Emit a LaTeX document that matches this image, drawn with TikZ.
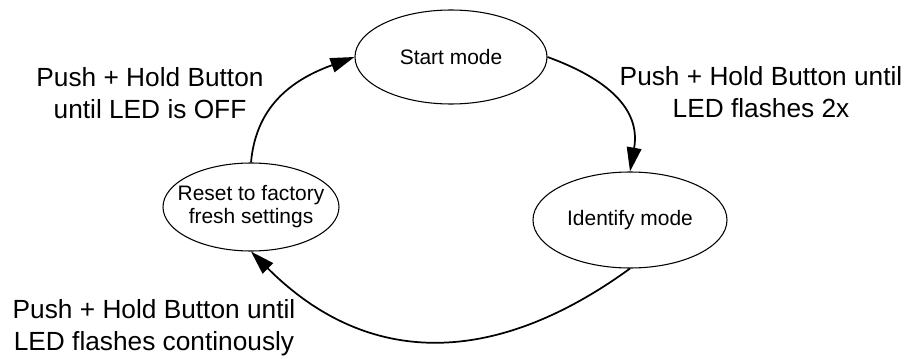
\documentclass[tikz,border=0pt]{standalone}
\usepackage{fontspec}
\setmainfont{Liberation Sans}
\usetikzlibrary{shapes.geometric,arrows.meta}
\begin{document}
\begin{tikzpicture}[x=0.75pt,y=0.75pt,
  statebox/.style={ellipse,draw=black,line width=0.8pt,inner sep=0pt},
  statetext/.style={align=center,font=\fontsize{15.7pt}{17.3pt}\selectfont,inner sep=0pt},
  edgelabel/.style={align=center,font=\fontsize{19.7pt}{24pt}\selectfont,inner sep=0pt},
  conn/.style={line width=1.3pt,-{Triangle[length=18pt,width=11pt]}}]
\useasboundingbox (0,0) rectangle (908,358);
\node[statebox,minimum width=144pt,minimum height=70.5pt,
  label={[statetext]center:Start mode}] (start) at (451,301) {};
\node[statebox,minimum width=132pt,minimum height=66pt,
  label={[statetext]center:Reset to factory\\fresh settings}] (reset) at (251,151) {};
\node[statebox,minimum width=145.5pt,minimum height=72pt,
  label={[statetext]center:Identify mode}] (ident) at (630,138) {};
\node[edgelabel] (l1) at (150,265) {Push + Hold Button\\until LED is OFF};
\node[edgelabel] (l2) at (761,266) {Push + Hold Button until\\LED flashes 2x};
\node[edgelabel] (l3) at (154,30.5) {Push + Hold Button until\\LED flashes continously};
\draw[conn] (reset.north) to[out=85,in=200,looseness=1.05] (start.west);
\draw[conn] (start.east) to[out=-20,in=80,looseness=1.15] (ident.north);
\draw[conn] (ident.south) to[out=216,in=-45,looseness=1.12] (reset.south);
\end{tikzpicture}
\end{document}
